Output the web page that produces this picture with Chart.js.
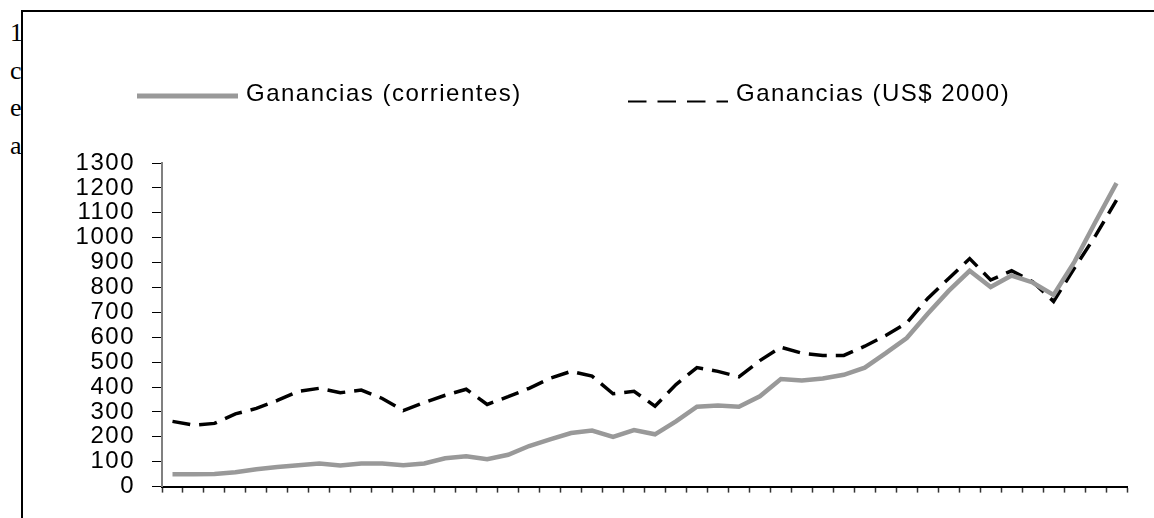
<!DOCTYPE html>
<html>
<head>
<meta charset="utf-8">
<script src="https://cdn.jsdelivr.net/npm/chart.js@4.4.1/dist/chart.umd.min.js"></script>
<style>
  html, body { margin: 0; padding: 0; background: #fff; width: 1154px; height: 518px; overflow: hidden; }
  #frame { position: absolute; left: 21px; top: 10px; width: 1200px; height: 600px; border-left: 2px solid #000; border-top: 2px solid #000; }
  #side { position: absolute; left: 10px; top: 14px; width: 11px; overflow: hidden; font-family: "Liberation Serif", "Times New Roman", serif; font-size: 26px; line-height: 37.5px; color: #000; white-space: nowrap; }
  #wrap { position: absolute; left: 0; top: 0; width: 1154px; height: 518px; }
</style>
</head>
<body>
<div id="frame"></div>
<div id="side">1<br>c<br>e<br>a</div>
<div id="wrap"><canvas id="c" width="1154" height="518"></canvas></div>
<script>
const years = ['1960','1961','1962','1963','1964','1965','1966','1967','1968','1969',
  '1970','1971','1972','1973','1974','1975','1976','1977','1978','1979',
  '1980','1981','1982','1983','1984','1985','1986','1987','1988','1989',
  '1990','1991','1992','1993','1994','1995','1996','1997','1998','1999',
  '2000','2001','2002','2003','2004','2005'];
const corrientes = [50,50,51,58,70,79,86,93,85,93,93,86,93,114,122,110,128,163,190,215,
  225,200,227,210,262,321,326,321,363,432,426,434,449,478,536,597,694,786,867,802,
  848,820,770,904,1064,1219];
const constantes = [262,247,254,292,314,346,383,395,377,388,354,305,338,367,391,330,361,395,435,463,
  444,373,383,323,410,478,463,441,506,560,536,527,527,564,607,657,756,836,916,830,
  867,823,744,879,1008,1151];
const seriesNames = ['Ganancias (corrientes)', 'Ganancias (US$ 2000)'];
const yTicks = [0,100,200,300,400,500,600,700,800,900,1000,1100,1200,1300];

const FONT = '24px "Liberation Sans", Arial, sans-serif';
const SPACING = '1.5px';

const spacingPlugin = {
  id: 'spacing',
  beforeDraw(chart) { chart.ctx.letterSpacing = SPACING; }
};

const legendPlugin = {
  id: 'customLegend',
  afterDraw(chart) {
    const ctx = chart.ctx;
    const ds = chart.data.datasets;
    ctx.save();
    ctx.letterSpacing = SPACING;
    ctx.font = FONT;
    ctx.fillStyle = '#000';
    ctx.textBaseline = 'alphabetic';
    ctx.textAlign = 'left';
    ctx.beginPath();
    ctx.strokeStyle = ds[0].borderColor;
    ctx.lineWidth = 5;
    ctx.lineCap = 'butt';
    ctx.setLineDash([]);
    ctx.moveTo(137, 96); ctx.lineTo(238, 96);
    ctx.stroke();
    ctx.fillText(ds[0].label, 246, 101);
    ctx.beginPath();
    ctx.strokeStyle = ds[1].borderColor;
    ctx.lineWidth = 2;
    ctx.setLineDash([18.5, 11]);
    ctx.moveTo(628, 101.5); ctx.lineTo(728, 101.5);
    ctx.stroke();
    ctx.setLineDash([]);
    ctx.fillText(ds[1].label, 736, 101);
    ctx.restore();
  }
};

new Chart(document.getElementById('c'), {
  type: 'line',
  data: {
    labels: years,
    datasets: [
      { label: seriesNames[0], data: corrientes, borderColor: '#999999', borderWidth: 4.5,
        pointRadius: 0, tension: 0, fill: false, borderJoinStyle: 'miter' },
      { label: seriesNames[1], data: constantes, borderColor: '#000000', borderWidth: 3.5,
        borderDash: [18, 9], pointRadius: 0, tension: 0, fill: false }
    ]
  },
  options: {
    responsive: false,
    animation: false,
    devicePixelRatio: 1,
    layout: { padding: { left: 0, top: 163, right: 27, bottom: 0 } },
    plugins: { legend: { display: false }, tooltip: { enabled: false }, title: { display: false } },
    scales: {
      x: {
        type: 'category',
        offset: true,
        grid: { offset: true, drawOnChartArea: false, drawTicks: true, tickLength: 6, tickColor: '#333', tickWidth: 1.5 },
        border: { display: true, color: '#000', width: 2 },
        ticks: { display: false, autoSkip: false },
        afterFit(scale) { scale.height = 4; }
      },
      y: {
        min: 0, max: 1300,
        afterBuildTicks(scale) { scale.ticks = yTicks.map(v => ({ value: v })); },
        grid: { drawOnChartArea: false, drawTicks: true, tickLength: 10, tickColor: '#000', tickWidth: 1 },
        border: { display: true, color: '#808080', width: 2 },
        ticks: { color: '#000', autoSkip: false, font: { family: '"Liberation Sans", Arial, sans-serif', size: 24 }, padding: 17,
          callback: (v) => String(v) },
        afterFit(scale) { scale.width = 162; }
      }
    }
  },
  plugins: [spacingPlugin, legendPlugin]
});
</script>
</body>
</html>
